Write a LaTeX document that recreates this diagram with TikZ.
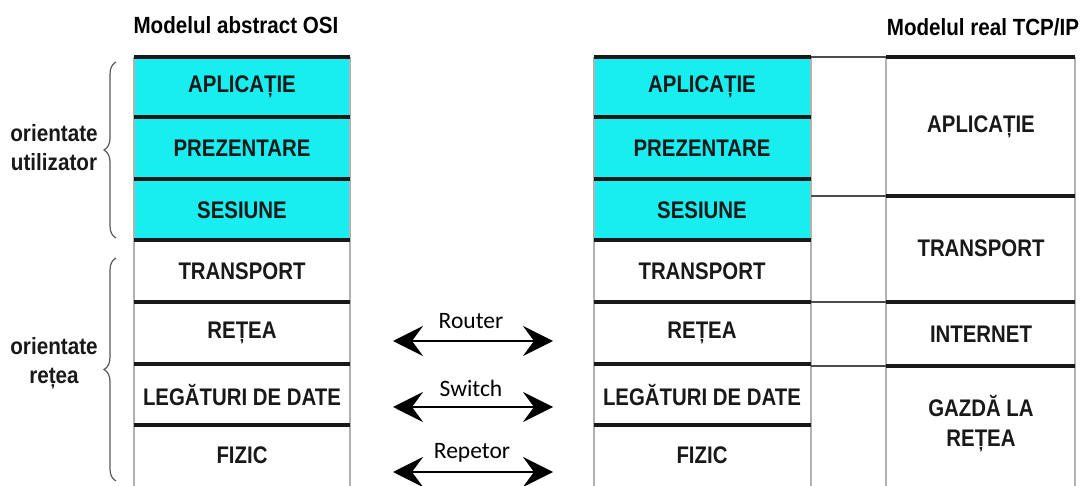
\documentclass[tikz,border=0pt]{standalone}
\usepackage{fontspec}
\setmainfont{Liberation Sans}
\newfontfamily\labfont{Liberation Sans}[FakeStretch=0.85]
\newfontfamily\titfont{Liberation Sans}[FakeStretch=0.88]
\newfontfamily\carlitofont{Carlito}
\usetikzlibrary{arrows.meta,decorations.pathreplacing}
\definecolor{osicyan}{RGB}{24,238,240}
\definecolor{ink}{RGB}{25,25,25}
\tikzset{
  layer/.style={inner sep=0pt, font=\labfont\bfseries\fontsize{24}{28}\selectfont, text=ink, align=center},
  title/.style={inner sep=0pt, font=\titfont\bfseries\fontsize{23.4}{26}\selectfont, text=black},
  side/.style={inner sep=0pt, font=\titfont\bfseries\fontsize{23.5}{29}\selectfont, text=ink, align=center},
  devlabel/.style={inner sep=0pt, font=\carlitofont\fontsize{23.5}{26}\selectfont, text=black},
  hline/.style={line width=3.6pt, ink},
  vline/.style={line width=1.8pt, gray!60},
  thin/.style={line width=1.6pt, gray!60!black},
  bracestyle/.style={decorate, decoration={brace, amplitude=12pt}, line width=1.2pt, gray!70!black},
  devarrow/.style={line width=2pt, black, {Stealth[length=30pt,width=30pt,inset=11pt]}-{Stealth[length=30pt,width=30pt,inset=11pt]}}
}
\begin{document}
\begin{tikzpicture}[x=1pt,y=-1pt]
\useasboundingbox (0,0) rectangle (1080,486);
\fill[white] (0,0) rectangle (1080,486);
% cyan fills
\fill[osicyan] (134,57) rectangle (350,240);
\fill[osicyan] (594,57) rectangle (811,240);
% titles
\node[title] (t1) at (236,25) {Modelul abstract OSI};
\node[title] (t2) at (983,27) {Modelul real TCP/IP};
% vertical edges
\draw[vline] (134,57) -- (134,486);
\draw[vline] (350,57) -- (350,486);
\draw[vline] (594,57) -- (594,486);
\draw[vline] (811,57) -- (811,486);
\draw[vline] (886,57) -- (886,486);
\draw[vline] (1075,57) -- (1075,486);
% OSI stack lines
\foreach \y in {57,117,179,240,302,364,425} {
  \draw[hline] (134,\y) -- (350,\y);
  \draw[hline] (594,\y) -- (811,\y);
}
% TCP/IP stack
\foreach \y in {57,196,302,366} {
  \draw[thin] (811,\y) -- (886,\y);
  \draw[hline] (886,\y) -- (1075,\y);
}
% OSI layer texts (left)
\node[layer] (la) at (242,87) {APLICAȚIE};
\node[layer] (lp) at (242,148) {PREZENTARE};
\node[layer] (ls) at (242,210) {SESIUNE};
\node[layer] (lt) at (242,271) {TRANSPORT};
\node[layer] (lr) at (242,333) {REȚEA};
\node[layer] (ll) at (242,395) {LEGĂTURI DE DATE};
\node[layer] (lf) at (242,455) {FIZIC};
% OSI layer texts (right)
\node[layer] (ra) at (702,87) {APLICAȚIE};
\node[layer] (rp) at (702,148) {PREZENTARE};
\node[layer] (rs) at (702,210) {SESIUNE};
\node[layer] (rt) at (702,271) {TRANSPORT};
\node[layer] (rr) at (702,333) {REȚEA};
\node[layer] (rl) at (702,395) {LEGĂTURI DE DATE};
\node[layer] (rf) at (702,455) {FIZIC};
% TCP/IP texts
\node[layer] (ta) at (981,127) {APLICAȚIE};
\node[layer] (tt) at (981,248) {TRANSPORT};
\node[layer] (ti) at (981,334) {INTERNET};
\node[layer] (tg) at (981,424) {GAZDĂ LA\\[2pt]REȚEA};
% braces and side labels
\draw[bracestyle] (116,238) -- (116,62);
\draw[bracestyle] (116,481) -- (116,258);
\node[side] (su) at (54,148) {orientate\\utilizator};
\node[side] (sr) at (54,363) {orientate\\rețea};
% device arrows
\coordinate (r1) at (393,341); \coordinate (r2) at (553,341);
\coordinate (s1) at (393,407); \coordinate (s2) at (553,407);
\coordinate (p1) at (393,472); \coordinate (p2) at (553,472);
\draw[devarrow] (r1) -- (r2);
\draw[devarrow] (s1) -- (s2);
\draw[devarrow] (p1) -- (p2);
\node[devlabel] (lrouter) at (471,321) {Router};
\node[devlabel] (lswitch) at (471,388) {Switch};
\node[devlabel] (lrep) at (472,453) {Repetor};
\end{tikzpicture}
\end{document}
